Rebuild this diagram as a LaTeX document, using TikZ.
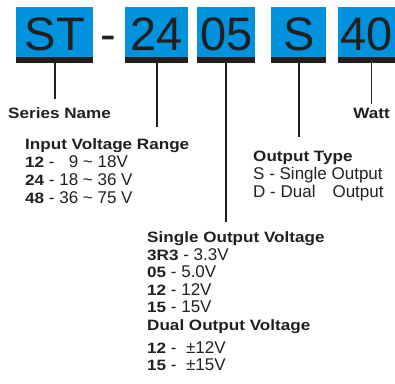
\documentclass[tikz,border=0pt]{standalone}
\usepackage{fontspec}
\setmainfont{Liberation Sans}
\newfontfamily\widefont{Liberation Sans}[FakeStretch=1.14]
\usetikzlibrary{positioning}
\definecolor{codeblue}{RGB}{0,146,221}
\definecolor{codeink}{RGB}{35,31,32}
\newcommand{\hd}[1]{{\fontsize{15}{18}\widefont\bfseries #1}}
\newcommand{\tl}{\textasciitilde}

\begin{document}
\begin{tikzpicture}[x=1pt,y=-1pt,
  digitbox/.style={fill=codeblue,text=codeink,inner sep=0pt,anchor=north west,
    minimum height=50pt,text height=36pt,text depth=0pt,font=\fontsize{47}{47}\selectfont},
  bar/.style={draw=codeink,line width=5.5pt},
  stem/.style={draw=codeink,line width=1.8pt},
  head/.style={text=codeink,inner sep=0pt,font=\fontsize{15}{18}\widefont\bfseries},
  legend/.style={text=codeink,inner sep=0pt,anchor=north west,align=left,
    font=\fontsize{17}{18}\selectfont}]
  \useasboundingbox (0,0) rectangle (395,383);

  % code boxes
  \node[digitbox,minimum width=77pt] (st) at (16,7) {ST};
  \node[text=codeink,inner sep=0pt,anchor=base,font=\fontsize{47}{47}\selectfont] (dash) at (108.5,50) {-};
  \node[digitbox,minimum width=63pt] (vin) at (125,7) {24};
  \node[digitbox,minimum width=58pt] (vout) at (197,7) {05};
  \node[digitbox,minimum width=55pt] (type) at (271,7) {S};
  \node[digitbox,minimum width=57pt] (watt) at (338,7) {40};
  \foreach \b in {st,vin,vout,type,watt}
    \draw[bar] ([yshift=-2.75pt]\b.south west) -- ([yshift=-2.75pt]\b.south east);

  % labels
  \node[head,anchor=base west] (series) at (8,118) {Series Name};
  \node[head,anchor=base] (wattlbl) at (371.5,118) {Watt};
  \node[legend] (inrange) at (25,138) {\hd{Input Voltage Range}\\
    \hd{12} - \hphantom{1}9 \tl\ 18V\\
    \hd{24} - 18 \tl\ 36 V\\
    \hd{48} - 36 \tl\ 75 V};
  \node[legend] (outtype) at (253,151.2) {\hd{Output Type}\\
    S - Single Output\\
    D - \rlap{Dual}\phantom{Single} Output};
  \node[legend,font=\fontsize{17}{17.6}\selectfont] (outvolt) at (147,231.5) {\hd{Single Output Voltage}\\
    \hd{3R3} - 3.3V\\
    \hd{05} - 5.0V\\
    \hd{12} - 12V\\
    \hd{15} - 15V\\
    \hd{Dual Output Voltage}\\[5.8pt]
    \hd{12} -\ \ ±12V\\[-1.5pt]
    \hd{15} -\ \ ±15V};

  % connectors
  \draw[stem,shorten >=8pt] ([yshift=-5.5pt]st.south) -- (st.south |- series.north);
  \draw[stem,shorten >=11pt] ([yshift=-5.5pt]vin.south) -- (vin.south |- inrange.north);
  \draw[stem,shorten >=9.5pt] ([yshift=-5.5pt]vout.south) -- (vout.south |- outvolt.north);
  \draw[stem,shorten >=14pt] ([yshift=-5.5pt]type.south) -- (type.south |- outtype.north);
  \draw[stem,shorten >=3pt] (wattlbl.north |- watt.south) ++(0,5.5) -- (wattlbl.north);
\end{tikzpicture}
\end{document}
